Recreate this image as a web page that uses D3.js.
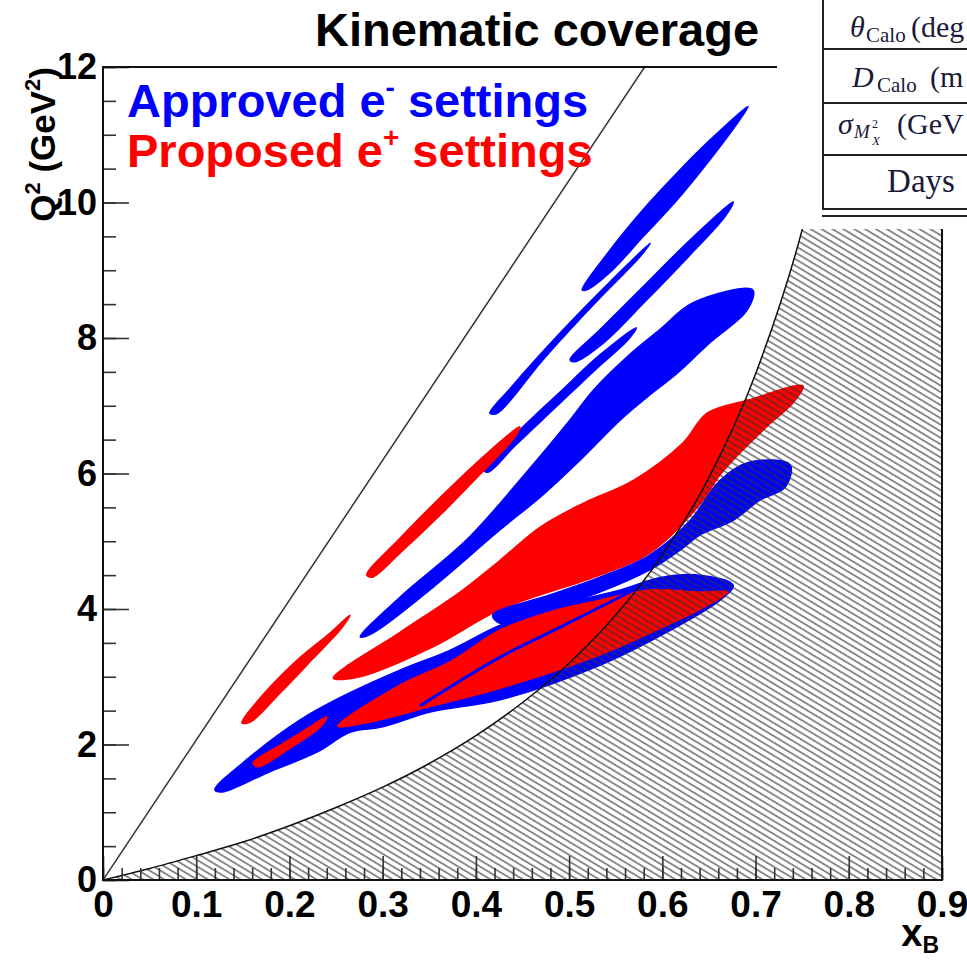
<!DOCTYPE html>
<html>
<head>
<meta charset="utf-8">
<script src="https://cdn.jsdelivr.net/npm/d3@7"></script>
<style>
body { margin: 0; background: #fff; }
svg { display: block; }
</style>
</head>
<body>
<svg id="chart" width="967" height="960"></svg>
<script>
// axis values
const xMajor = [0, 0.1, 0.2, 0.3, 0.4, 0.5, 0.6, 0.7, 0.8, 0.9];
const yMajor = [0, 2, 4, 6, 8, 10, 12];

// kinematic limits (xB, Q2)
const yLimit = [[0, 0], [0.581, 12]];
const wCurveX = [0, 0.05, 0.1, 0.15, 0.2, 0.25, 0.3, 0.35, 0.4, 0.45, 0.5, 0.55, 0.6, 0.65, 0.7, 0.75, 0.79];
const wCurveQ2 = [0, 0.17, 0.36, 0.56, 0.80, 1.07, 1.37, 1.72, 2.13, 2.62, 3.2, 3.91, 4.8, 5.94, 7.47, 9.6, 12.0];

// approved e- settings (outlines of the event clouds)
const eMinusA = [[0.514,8.71],[0.544,9.30],[0.579,9.89],[0.616,10.44],[0.651,10.92],[0.692,11.42],[0.683,11.22],[0.651,10.63],[0.616,10.04],[0.579,9.49],[0.544,8.97],[0.519,8.71]];
const eMinusB = [[0.415,6.89],[0.437,7.26],[0.490,8.07],[0.544,8.83],[0.587,9.40],[0.576,9.20],[0.526,8.49],[0.472,7.68],[0.423,6.89]];
const eMinusC = [[0.501,7.68],[0.533,8.12],[0.576,8.71],[0.630,9.45],[0.676,10.01],[0.667,9.79],[0.630,9.23],[0.581,8.53],[0.538,7.94],[0.506,7.65]];
const eMinusD = [[0.408,6.05],[0.447,6.64],[0.490,7.20],[0.533,7.75],[0.572,8.15],[0.563,7.97],[0.528,7.53],[0.485,6.97],[0.442,6.41],[0.413,6.02]];
const eMinusE = [[0.276,3.59],[0.319,4.18],[0.390,5.02],[0.447,5.90],[0.501,6.79],[0.526,7.23],[0.562,7.72],[0.597,8.12],[0.633,8.52],[0.697,8.71],[0.691,8.41],[0.651,7.93],[0.616,7.48],[0.584,7.13],[0.555,6.79],[0.512,6.20],[0.469,5.65],[0.426,5.17],[0.354,4.32],[0.290,3.65]];
const eMinusF = [[0.418,3.91],[0.480,4.21],[0.533,4.47],[0.587,4.80],[0.630,5.31],[0.662,5.90],[0.694,6.17],[0.737,6.13],[0.732,5.80],[0.705,5.61],[0.676,5.31],[0.640,5.09],[0.622,4.90],[0.587,4.58],[0.533,4.25],[0.480,4.01],[0.426,3.79]];
const eMinusG = [[0.120,1.33],[0.158,1.82],[0.211,2.36],[0.254,2.69],[0.319,3.10],[0.372,3.39],[0.426,3.76],[0.490,4.06],[0.555,4.28],[0.597,4.46],[0.640,4.50],[0.676,4.35],[0.662,4.13],[0.605,3.66],[0.533,3.17],[0.426,2.66],[0.351,2.48],[0.300,2.26],[0.265,2.18],[0.230,1.89],[0.176,1.58],[0.128,1.30]];
const eMinusEdge = [[0.340,2.57],[0.426,3.29],[0.490,3.73],[0.584,4.38]];

// proposed e+ settings
const ePlusA = [[0.149,2.32],[0.174,2.77],[0.211,3.28],[0.244,3.65],[0.265,3.91],[0.256,3.72],[0.224,3.25],[0.190,2.76],[0.158,2.33]];
const ePlusB = [[0.283,4.50],[0.319,5.05],[0.362,5.65],[0.404,6.20],[0.447,6.69],[0.442,6.54],[0.404,5.98],[0.362,5.39],[0.319,4.83],[0.289,4.47]];
const ePlusC = [[0.247,2.98],[0.319,3.66],[0.383,4.25],[0.426,4.72],[0.469,5.21],[0.515,5.56],[0.569,5.90],[0.622,6.45],[0.648,6.89],[0.691,7.08],[0.751,7.29],[0.740,7.04],[0.712,6.69],[0.683,6.30],[0.662,5.98],[0.640,5.54],[0.587,4.83],[0.533,4.50],[0.426,3.99],[0.354,3.44],[0.276,3.00]];
const ePlusD = [[0.252,2.27],[0.319,2.88],[0.372,3.22],[0.426,3.69],[0.480,3.96],[0.533,4.13],[0.587,4.28],[0.640,4.25],[0.670,4.25],[0.640,3.99],[0.605,3.76],[0.533,3.32],[0.426,2.83],[0.354,2.57],[0.286,2.33]];
const ePlusE = [[0.161,1.73],[0.190,1.99],[0.222,2.26],[0.240,2.41],[0.233,2.26],[0.201,1.95],[0.166,1.67]];

const tableRows = ["Days"];

const blue = "#0000ff", red = "#ff0000";

const svg = d3.select("#chart");

const x = d3.scaleLinear().domain([0, 0.9]).range([103, 942]);
const y = d3.scaleLinear().domain([0, 12]).range([880, 67]);

const defs = svg.append("defs");
defs.append("clipPath").attr("id", "plotClip")
    .append("rect").attr("x", 103).attr("y", 67).attr("width", 839).attr("height", 813);

const hatch = defs.append("pattern")
    .attr("id", "hatch")
    .attr("patternUnits", "userSpaceOnUse")
    .attr("width", 12).attr("height", 5.6)
    .attr("patternTransform", "rotate(31)");
hatch.append("line")
    .attr("x1", 0).attr("x2", 12).attr("y1", 2.8).attr("y2", 2.8)
    .attr("stroke", "#333").attr("stroke-width", 1.1);

const plot = svg.append("g").attr("clip-path", "url(#plotClip)");

// settings, drawn in the order ROOT stacked them
const layers = [
    {pts: eMinusA, color: blue}, {pts: eMinusB, color: blue}, {pts: eMinusC, color: blue},
    {pts: eMinusD, color: blue}, {pts: eMinusE, color: blue},
    {pts: ePlusA, color: red}, {pts: ePlusB, color: red}, {pts: ePlusC, color: red},
    {pts: eMinusG, color: blue}, {pts: eMinusF, color: blue},
    {pts: ePlusD, color: red}, {pts: ePlusE, color: red}
];

const area = d3.line()
    .x(function (d) { return x(d[0]); })
    .y(function (d) { return y(d[1]); })
    .curve(d3.curveCatmullRomClosed.alpha(0.5));

plot.selectAll(".cloud")
    .data(layers)
    .enter()
    .append("path")
    .attr("class", "cloud")
    .attr("d", function (d) { return area(d.pts); })
    .attr("fill", function (d) { return d.color; })
    .attr("stroke", function (d) { return d.color; })
    .attr("stroke-width", 1.5)
    .attr("stroke-linejoin", "round");

plot.append("path")
    .attr("d", d3.line().x(d => x(d[0])).y(d => y(d[1])).curve(d3.curveCatmullRom)(eMinusEdge))
    .attr("fill", "none")
    .attr("stroke", blue)
    .attr("stroke-width", 3);

// unphysical region below the W limit
const wCurve = wCurveX.map(function (v, i) { return [v, wCurveQ2[i]]; });
const hatchPoly = wCurve.concat([[0.9, 12], [0.9, 0]]);
plot.append("path")
    .attr("d", d3.line().x(d => x(d[0])).y(d => y(d[1])).curve(d3.curveMonotoneX)(hatchPoly) + "Z")
    .attr("fill", "url(#hatch)");
plot.append("path")
    .attr("d", d3.line().x(d => x(d[0])).y(d => y(d[1])).curve(d3.curveMonotoneX)(wCurve))
    .attr("fill", "none").attr("stroke", "#111").attr("stroke-width", 1.5);

// y = 1 limit
plot.append("path")
    .attr("d", d3.line().x(d => x(d[0])).y(d => y(d[1]))(yLimit))
    .attr("fill", "none").attr("stroke", "#333").attr("stroke-width", 1.5);

// axes, ticks pointing inwards as in ROOT
const xAxis = svg.append("g").attr("class", "x-axis")
    .attr("transform", "translate(0,880)")
    .call(d3.axisBottom(x).tickValues(xMajor).tickSizeInner(-24).tickSizeOuter(0).tickPadding(11)
        .tickFormat(d3.format("")));
svg.append("g")
    .attr("transform", "translate(0,880)")
    .call(d3.axisBottom(x).tickValues(d3.range(0, 0.9001, 0.02)).tickSizeInner(-12).tickSizeOuter(0).tickFormat(""));

const yAxis = svg.append("g").attr("class", "y-axis")
    .attr("transform", "translate(103,0)")
    .call(d3.axisLeft(y).tickValues(yMajor).tickSizeInner(-26).tickSizeOuter(0).tickPadding(6));
svg.append("g")
    .attr("transform", "translate(103,0)")
    .call(d3.axisLeft(y).tickValues(d3.range(0, 12.001, 0.5)).tickSizeInner(-13).tickSizeOuter(0).tickFormat(""));

svg.selectAll(".domain").remove();
svg.selectAll(".tick line").attr("stroke", "#333").attr("stroke-width", 1.6);
xAxis.selectAll("text").attr("font-size", 37);
yAxis.selectAll("text").attr("font-size", 36);
svg.selectAll(".tick text")
    .attr("font-family", "'Liberation Sans', Arial, sans-serif")
    .attr("font-weight", "bold")
    .attr("fill", "#000");

// frame
svg.append("rect")
    .attr("x", 103).attr("y", 67).attr("width", 839).attr("height", 813)
    .attr("fill", "none").attr("stroke", "#111").attr("stroke-width", 2);

// title and legend
const sans = "'Liberation Sans', Arial, sans-serif";
svg.append("text")
    .attr("x", 537).attr("y", 46).attr("text-anchor", "middle")
    .attr("font-family", sans).attr("font-weight", "bold").attr("font-size", 47)
    .text("Kinematic coverage");

const leg1 = svg.append("text").attr("x", 127).attr("y", 117)
    .attr("font-family", sans).attr("font-weight", "bold").attr("font-size", 47).attr("fill", blue);
leg1.append("tspan").text("Approved e");
leg1.append("tspan").attr("font-size", 28).attr("dy", -20).text("-");
leg1.append("tspan").attr("dy", 20).text(" settings");

const leg2 = svg.append("text").attr("x", 127).attr("y", 167)
    .attr("font-family", sans).attr("font-weight", "bold").attr("font-size", 47).attr("fill", red);
leg2.append("tspan").text("Proposed e");
leg2.append("tspan").attr("font-size", 28).attr("dy", -20).text("+");
leg2.append("tspan").attr("dy", 20).text(" settings");

// axis titles
const yTitle = svg.append("text")
    .attr("transform", "translate(55,67) rotate(-90)")
    .attr("text-anchor", "end")
    .attr("font-family", sans).attr("font-weight", "bold").attr("font-size", 35);
yTitle.append("tspan").text("Q");
yTitle.append("tspan").attr("font-size", 22).attr("dy", -15).text("2");
yTitle.append("tspan").attr("dy", 15).text(" (GeV");
yTitle.append("tspan").attr("font-size", 22).attr("dy", -15).text("2");
yTitle.append("tspan").attr("dy", 15).text(")");

const xTitle = svg.append("text")
    .attr("x", 939).attr("y", 946).attr("text-anchor", "end")
    .attr("font-family", sans).attr("font-weight", "bold").attr("font-size", 38);
xTitle.append("tspan").text("x");
xTitle.append("tspan").attr("font-size", 23).attr("dy", 7).text("B");

// pasted table fragment at the top right
const serif = "'Liberation Serif', 'DejaVu Serif', serif";
const ink = "#1a1a3a";
const tab = svg.append("g");
tab.append("rect").attr("x", 777).attr("y", 0).attr("width", 190).attr("height", 229).attr("fill", "#fff");
tab.append("line").attr("x1", 823).attr("x2", 823).attr("y1", 0).attr("y2", 209).attr("stroke", "#222").attr("stroke-width", 2);
[49, 103, 155, 209, 216].forEach(function (v) {
    tab.append("line").attr("x1", 822).attr("x2", 967).attr("y1", v).attr("y2", v)
        .attr("stroke", "#222").attr("stroke-width", 1.8);
});
const t1 = tab.append("text").attr("y", 37).attr("font-family", serif).attr("font-size", 30).attr("fill", ink);
t1.append("tspan").attr("x", 850).attr("font-style", "italic").text("θ");
t1.append("tspan").attr("x", 866).attr("font-size", 21).attr("dy", 5).text("Calo");
t1.append("tspan").attr("x", 911).attr("dy", -5).text("(deg");
const t2 = tab.append("text").attr("y", 87).attr("font-family", serif).attr("font-size", 30).attr("fill", ink);
t2.append("tspan").attr("x", 852).attr("font-style", "italic").text("D");
t2.append("tspan").attr("x", 877).attr("font-size", 21).attr("dy", 5).text("Calo");
t2.append("tspan").attr("x", 930).attr("dy", -5).text("(m");
const t3 = tab.append("text").attr("y", 134).attr("font-family", serif).attr("font-size", 30).attr("fill", ink);
t3.append("tspan").attr("x", 838).attr("font-style", "italic").text("σ");
t3.append("tspan").attr("x", 854).attr("font-style", "italic").attr("font-size", 19).attr("dy", 4).text("M");
t3.append("tspan").attr("x", 872).attr("font-size", 12).attr("dy", -10).text("2");
t3.append("tspan").attr("x", 872).attr("font-style", "italic").attr("font-size", 13).attr("dy", 17).text("X");
t3.append("tspan").attr("x", 897).attr("dy", -11).text("(GeV");
tab.append("text").attr("x", 921).attr("y", 192).attr("text-anchor", "middle")
    .attr("font-family", serif).attr("font-size", 33).attr("fill", ink).text(tableRows[0]);
</script>
</body>
</html>
